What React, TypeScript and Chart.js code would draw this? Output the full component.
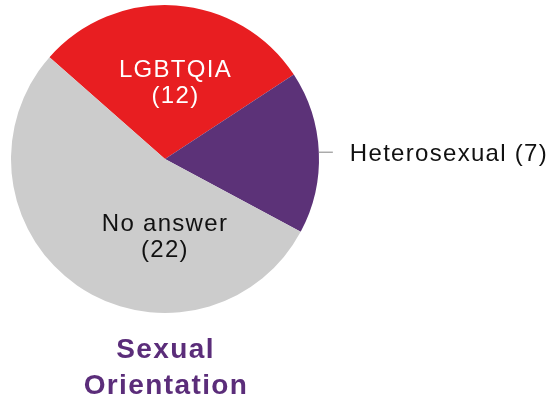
import React, { useEffect, useRef } from "react";
import { Chart, registerables } from "chart.js";

Chart.register(...registerables);

const categories = ["LGBTQIA", "Heterosexual", "No answer"];
const values = [12, 7, 22];
const sliceColors = ["#E81E21", "#5C3278", "#CCCCCC"];
const chartTitle = ["Sexual", "Orientation"];

// label style per slice: inside (two lines) or outside with leader line
const labelModes = ["inside", "outside", "inside"];
const labelColors = ["#FFFFFF", "#111111", "#111111"];
// placement of inside labels: angle from top (deg) and fraction of radius
const insidePlacement: Record<number, { angle: number; frac: number }> = {
  0: { angle: 7.3, frac: 0.51 },
  2: { angle: 180.4, frac: 0.5 },
};

const FONT = '"Liberation Sans", Arial, Helvetica, sans-serif';

const labelPlugin = {
  id: "sliceLabels",
  afterDatasetsDraw(chart: any) {
    const ctx = chart.ctx as CanvasRenderingContext2D;
    const meta = chart.getDatasetMeta(0);
    ctx.save();
    meta.data.forEach((arc: any, i: number) => {
      const { x, y, startAngle, endAngle, outerRadius } = arc.getProps(
        ["x", "y", "startAngle", "endAngle", "outerRadius"],
        true
      );
      const text = `${categories[i]}`;
      const val = `(${values[i]})`;
      ctx.fillStyle = labelColors[i];
      ctx.font = `24px ${FONT}`;
      (ctx as any).letterSpacing = "1.3px";
      ctx.textAlign = "center";
      ctx.textBaseline = "alphabetic";
      if (labelModes[i] === "inside") {
        const p = insidePlacement[i];
        const a = ((p.angle - 90) * Math.PI) / 180;
        const cx = x + Math.cos(a) * outerRadius * p.frac + 0.5;
        const cy = y + Math.sin(a) * outerRadius * p.frac;
        ctx.fillText(text, cx, cy - 4.5);
        ctx.fillText(val, cx, cy + 21.5);
      } else {
        const mid = (startAngle + endAngle) / 2;
        const px = x + Math.cos(mid) * outerRadius;
        const py = y + Math.sin(mid) * outerRadius;
        ctx.strokeStyle = "#AAAAAA";
        ctx.lineWidth = 1.5;
        ctx.beginPath();
        ctx.moveTo(px, py);
        ctx.lineTo(px + 14, py);
        ctx.stroke();
        ctx.textAlign = "left";
        ctx.fillText(`${text} ${val}`, px + 31, py + 8.5);
      }
    });
    // title below the pie
    const a0 = meta.data[0];
    const cx = a0.x;
    ctx.fillStyle = "#5B2D7A";
    ctx.font = `bold 28px ${FONT}`;
    (ctx as any).letterSpacing = "1.4px";
    ctx.textAlign = "center";
    ctx.fillText(chartTitle[0], cx + 0.5, 358);
    ctx.fillText(chartTitle[1], cx + 1, 394);
    ctx.restore();
  },
};

export default function App() {
  const ref = useRef<HTMLCanvasElement | null>(null);
  useEffect(() => {
    if (!ref.current) return;
    const chart = new Chart(ref.current, {
      type: "pie",
      data: {
        labels: categories,
        datasets: [
          {
            data: values,
            backgroundColor: sliceColors,
            borderWidth: 0,
          },
        ],
      },
      options: {
        responsive: false,
        animation: false,
        devicePixelRatio: 1,
        rotation: -48.6,
        events: [],
        layout: { padding: { left: 11, top: 5, right: 236, bottom: 89 } },
        plugins: {
          legend: { display: false },
          title: { display: false },
          tooltip: { enabled: false },
        },
      },
      plugins: [labelPlugin],
    });
    return () => chart.destroy();
  }, []);
  return (
    <div style={{ position: "fixed", left: 0, top: 0, width: 555, height: 402, background: "#fff" }}>
      <canvas ref={ref} width={555} height={402} style={{ display: "block" }} />
    </div>
  );
}
